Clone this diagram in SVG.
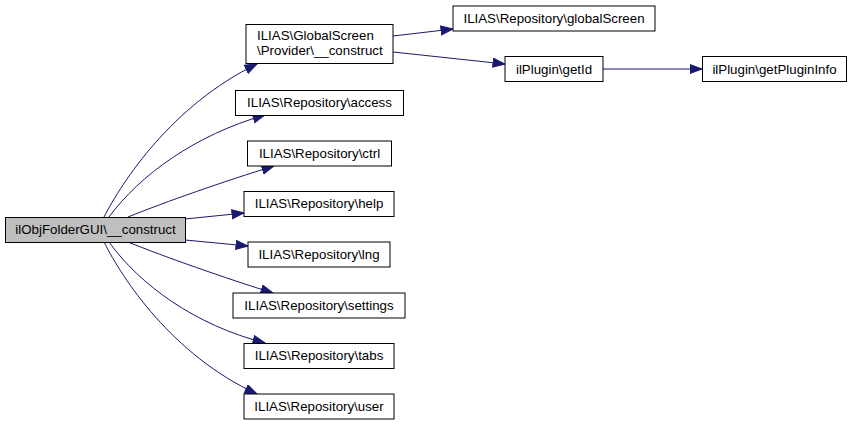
<svg xmlns="http://www.w3.org/2000/svg" width="852" height="425" viewBox="0 0 852 425">
<style>
.n rect{fill:#fff;stroke:#000;stroke-width:1}
.n.root rect{fill:#bfbfbf}
.n text{font-family:"Liberation Sans",Arial,sans-serif;font-size:13.3px;fill:#000;text-anchor:middle}
.e path{fill:none;stroke:#191970;stroke-width:1}
</style>
<defs>
<marker id="arr" markerUnits="userSpaceOnUse" markerWidth="14" markerHeight="11" refX="12.5" refY="5" orient="auto" viewBox="0 0 14 11">
<path d="M0.5,0.5 L12.5,5 L0.5,9.5 z" fill="#191970" stroke="#191970"/>
</marker>
</defs>
<rect width="852" height="425" fill="#fff"/>
<g id="edges" class="e">
<path d="M104,217 C122,182 172,105 257,64" marker-end="url(#arr)"/>
<path d="M109,217 C140,175 195,135 265,115" marker-end="url(#arr)"/>
<path d="M128,217 C165,202 225,181 274,166" marker-end="url(#arr)"/>
<path d="M185,219 L244,213" marker-end="url(#arr)"/>
<path d="M185,240 L248,246" marker-end="url(#arr)"/>
<path d="M128,242 C165,257 225,278 273,293" marker-end="url(#arr)"/>
<path d="M109,242 C140,285 195,325 265,343" marker-end="url(#arr)"/>
<path d="M104,242 C122,278 172,355 257,394" marker-end="url(#arr)"/>
<path d="M393,36 L453,29" marker-end="url(#arr)"/>
<path d="M393,52 L505,64" marker-end="url(#arr)"/>
<path d="M603,69 L702,69" marker-end="url(#arr)"/>
</g>
<g id="node-root" class="n root"><rect x="5.5" y="217.5" width="180" height="25"/><text x="95.5" y="234">ilObjFolderGUI\__construct</text></g>
<g id="node-gs" class="n"><rect x="246" y="24.5" width="147" height="39"/><text x="257" y="40" style="text-anchor:start">ILIAS\GlobalScreen</text><text x="257" y="55" style="text-anchor:start">\Provider\__construct</text></g>
<g id="node-access" class="n"><rect x="235.5" y="90.5" width="168" height="25"/><text x="319.5" y="107">ILIAS\Repository\access</text></g>
<g id="node-ctrl" class="n"><rect x="247.5" y="141" width="144" height="25"/><text x="319.5" y="158">ILIAS\Repository\ctrl</text></g>
<g id="node-help" class="n"><rect x="244" y="191.5" width="150" height="25"/><text x="319" y="208">ILIAS\Repository\help</text></g>
<g id="node-lng" class="n"><rect x="248" y="242" width="142" height="25"/><text x="319" y="259">ILIAS\Repository\lng</text></g>
<g id="node-settings" class="n"><rect x="233" y="293" width="172" height="25"/><text x="319" y="310">ILIAS\Repository\settings</text></g>
<g id="node-tabs" class="n"><rect x="244" y="343.5" width="150" height="25"/><text x="319" y="360">ILIAS\Repository\tabs</text></g>
<g id="node-user" class="n"><rect x="244" y="394" width="150" height="25"/><text x="319" y="411">ILIAS\Repository\user</text></g>
<g id="node-globalScreen" class="n"><rect x="453" y="6" width="202" height="25"/><text x="554" y="23">ILIAS\Repository\globalScreen</text></g>
<g id="node-getId" class="n"><rect x="505" y="56.5" width="98" height="25"/><text x="554" y="73.5">ilPlugin\getId</text></g>
<g id="node-getPluginInfo" class="n"><rect x="702.5" y="56.5" width="144" height="25"/><text x="774.5" y="73.5">ilPlugin\getPluginInfo</text></g>
</svg>
